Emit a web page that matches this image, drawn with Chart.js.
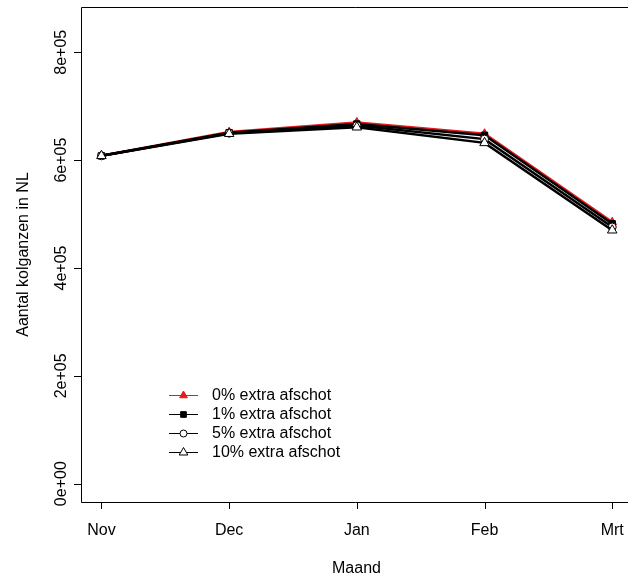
<!DOCTYPE html>
<html>
<head>
<meta charset="utf-8">
<script src="https://cdn.jsdelivr.net/npm/chart.js@4/dist/chart.umd.min.js"></script>
<style>
html,body{margin:0;padding:0;background:#fff;}
#wrap{width:628px;height:579px;position:relative;}
</style>
</head>
<body>
<div id="wrap"><canvas id="c" width="628" height="579"></canvas></div>
<script>
const months = ["Nov", "Dec", "Jan", "Feb", "Mrt"];
const seriesNames = ["0% extra afschot", "1% extra afschot", "5% extra afschot", "10% extra afschot"];
const s0 = [608000, 652000, 670000, 649000, 485000];
const s1 = [608000, 651000, 667000, 646000, 482000];
const s5 = [608000, 650000, 664000, 639000, 476000];
const s10 = [608000, 649000, 661000, 632000, 470000];
const yTickValues = [0, 200000, 400000, 600000, 800000];
const yTickLabels = ["0e+00", "2e+05", "4e+05", "6e+05", "8e+05"];
const xTitle = "Maand";
const yTitle = "Aantal kolganzen in NL";

const FONT = '"Liberation Sans", Arial, Helvetica, sans-serif';

function toPts(arr){ return arr.map((v,i)=>({x:i+1,y:v})); }

const styles = [
  {color:'#e41a1c', fill:'#e41a1c', pointStyle:'triangle', r:5},
  {color:'#000000', fill:'#000000', pointStyle:'rect', r:4.5},
  {color:'#000000', fill:'#ffffff', pointStyle:'circle', r:4},
  {color:'#000000', fill:'#ffffff', pointStyle:'triangle', r:5.5}
];
const allSeries = [s0, s1, s5, s10];

const datasets = allSeries.map((s,k)=>({
  label: seriesNames[k],
  data: toPts(s),
  order: 3 - k,
  borderColor: styles[k].color,
  backgroundColor: styles[k].fill,
  pointBackgroundColor: styles[k].fill,
  pointBorderColor: styles[k].color,
  pointStyle: styles[k].pointStyle,
  pointRadius: styles[k].r,
  pointBorderWidth: 1,
  borderWidth: 2.5,
  tension: 0,
  fill: false
}));

const decor = {
  id: 'decor',
  afterDraw(chart){
    const ctx = chart.ctx;
    const xs = chart.scales.x, ys = chart.scales.y;
    const ca = chart.chartArea;
    ctx.save();
    ctx.strokeStyle = '#000';
    ctx.lineWidth = 1;
    // box (right side is outside the canvas)
    ctx.beginPath();
    ctx.moveTo(640, ca.top + 0.5);
    ctx.lineTo(ca.left + 0.5, ca.top + 0.5);
    ctx.lineTo(ca.left + 0.5, ca.bottom + 0.5);
    ctx.lineTo(640, ca.bottom + 0.5);
    ctx.stroke();
    // y ticks
    ctx.fillStyle = '#000';
    ctx.font = '16px ' + FONT;
    yTickValues.forEach((v,i)=>{
      const y = Math.round(ys.getPixelForValue(v)) + 0.5;
      ctx.beginPath();
      ctx.moveTo(ca.left - 7, y);
      ctx.lineTo(ca.left, y);
      ctx.stroke();
      ctx.save();
      ctx.translate(66, ys.getPixelForValue(v));
      ctx.rotate(-Math.PI/2);
      ctx.textAlign = 'center';
      ctx.textBaseline = 'alphabetic';
      ctx.fillText(yTickLabels[i], 0, 0);
      ctx.restore();
    });
    // x ticks
    months.forEach((m,i)=>{
      const x = Math.round(xs.getPixelForValue(i+1)) + 0.5;
      ctx.beginPath();
      ctx.moveTo(x, ca.bottom);
      ctx.lineTo(x, ca.bottom + 7);
      ctx.stroke();
      ctx.textAlign = 'center';
      ctx.textBaseline = 'middle';
      ctx.fillText(m, xs.getPixelForValue(i+1), 531);
    });
    // titles
    ctx.textAlign = 'center';
    ctx.textBaseline = 'middle';
    ctx.fillText(xTitle, (ca.left + 632)/2 , 569);
    ctx.save();
    ctx.translate(28, (ca.top + ca.bottom)/2);
    ctx.rotate(-Math.PI/2);
    ctx.textBaseline = 'alphabetic';
    ctx.fillText(yTitle, 0, 0);
    ctx.restore();
    // legend
    const rows = [395, 414, 433, 452];
    rows.forEach((ry,k)=>{
      const st = styles[k];
      ctx.strokeStyle = st.color;
      ctx.lineWidth = 1;
      ctx.beginPath();
      ctx.moveTo(169, ry + 0.5);
      ctx.lineTo(198, ry + 0.5);
      ctx.stroke();
      ctx.fillStyle = st.fill;
      ctx.strokeStyle = st.color;
      Chart.helpers.drawPoint(ctx, {pointStyle: st.pointStyle, radius: st.r - 0.5, borderWidth: 1, rotation: 0}, 183.5, ry + 0.5);
      ctx.fillStyle = '#000';
      ctx.textAlign = 'left';
      ctx.textBaseline = 'middle';
      ctx.fillText(seriesNames[k], 212, ry + 1);
    });
    ctx.restore();
  }
};

new Chart(document.getElementById('c'), {
  type: 'line',
  data: { datasets },
  options: {
    responsive: false,
    animation: false,
    layout: { autoPadding: false, padding: { left: 81, top: 7, right: 0, bottom: 77 } },
    plugins: { legend: { display: false }, tooltip: { enabled: false } },
    scales: {
      x: { type: 'linear', min: 0.84, max: 5.1235, display: false },
      y: { type: 'linear', min: -34000, max: 884000, display: false }
    }
  },
  plugins: [decor]
});
</script>
</body>
</html>
